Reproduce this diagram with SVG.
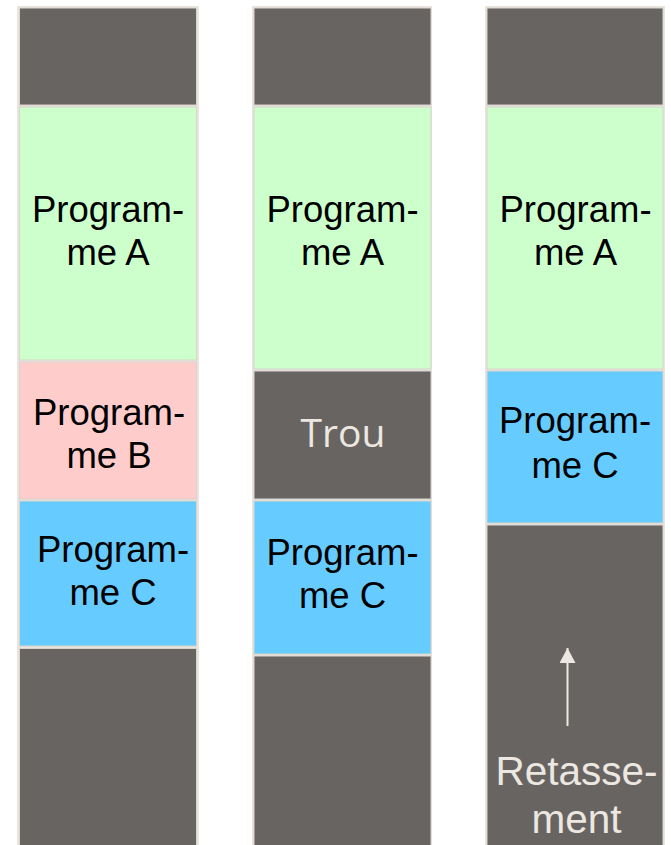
<svg xmlns="http://www.w3.org/2000/svg" width="671" height="845" viewBox="0 0 671 845">
  <defs>
    <style>
      .col { fill: #e8e4de; }
      .blk { stroke: #d9d3cb; stroke-width: 1; }
      .free { fill: #686462; }
      .pa { fill: #ccffcc; }
      .pb { fill: #ffcccc; }
      .pc { fill: #66ccff; }
      .lbl { font-family: "Liberation Sans", Arial, sans-serif; font-size: 36.5px; fill: #000000; text-anchor: middle; }
      .lt { font-family: "Liberation Sans", Arial, sans-serif; font-size: 40.5px; fill: #ece8e1; text-anchor: middle; }
      .hole { font-family: "Open Sans", "Noto Sans", sans-serif; font-size: 39px; fill: #ece8e1; text-anchor: middle; }
    </style>
    <!-- arrowhead drawn along +x so orient="auto" points it along the line -->
    <marker id="head" markerWidth="16" markerHeight="16" refX="15" refY="8" orient="auto" markerUnits="userSpaceOnUse" viewBox="0 0 16 16">
      <path d="M0,0 L15,8 L0,16 Z" fill="#ece8e1"/>
    </marker>
  </defs>

  <rect width="671" height="845" fill="#ffffff"/>

  <!-- Memory state 1: A, B, C loaded -->
  <g id="mem1">
    <rect class="col" x="17" y="6" width="182" height="845"/>
    <g id="mem1-top"><rect class="blk free" x="19.5" y="8" width="177" height="97"/></g>
    <g id="mem1-progA">
      <rect class="blk pa" x="19.5" y="107" width="177" height="253"/>
      <text class="lbl" x="108" y="221.5">Program-</text>
      <text class="lbl" x="108" y="265">me A</text>
    </g>
    <g id="mem1-progB">
      <rect class="blk pb" x="19.5" y="362" width="177" height="137"/>
      <text class="lbl" x="109" y="425">Program-</text>
      <text class="lbl" x="109" y="468">me B</text>
    </g>
    <g id="mem1-progC">
      <rect class="blk pc" x="19.5" y="501" width="177" height="145"/>
      <text class="lbl" x="113" y="561.5">Program-</text>
      <text class="lbl" x="113" y="605">me C</text>
    </g>
    <g id="mem1-bottom"><rect class="blk free" x="19.5" y="648.5" width="177" height="200"/></g>
  </g>

  <!-- Memory state 2: B removed, hole left -->
  <g id="mem2">
    <rect class="col" x="252" y="6" width="180" height="845"/>
    <g id="mem2-top"><rect class="blk free" x="254" y="8" width="177" height="97"/></g>
    <g id="mem2-progA">
      <rect class="blk pa" x="254" y="107" width="177" height="262"/>
      <text class="lbl" x="342.5" y="221.5">Program-</text>
      <text class="lbl" x="342.5" y="265">me A</text>
    </g>
    <g id="mem2-hole">
      <rect class="blk free" x="254" y="371" width="177" height="128"/>
      <text class="hole" x="343" y="447">Trou</text>
    </g>
    <g id="mem2-progC">
      <rect class="blk pc" x="254" y="501" width="177" height="153"/>
      <text class="lbl" x="342.5" y="565">Program-</text>
      <text class="lbl" x="342.5" y="608">me C</text>
    </g>
    <g id="mem2-bottom"><rect class="blk free" x="254" y="656" width="177" height="200"/></g>
  </g>

  <!-- Memory state 3: after compaction -->
  <g id="mem3">
    <rect class="col" x="485" y="6" width="180" height="845"/>
    <g id="mem3-top"><rect class="blk free" x="487" y="8" width="176" height="97"/></g>
    <g id="mem3-progA">
      <rect class="blk pa" x="487" y="107" width="176" height="262"/>
      <text class="lbl" x="575.5" y="221.5">Program-</text>
      <text class="lbl" x="575.5" y="265">me A</text>
    </g>
    <g id="mem3-progC">
      <rect class="blk pc" x="487" y="371" width="176" height="152"/>
      <text class="lbl" x="575" y="433">Program-</text>
      <text class="lbl" x="575" y="478">me C</text>
    </g>
    <g id="mem3-bottom">
      <rect class="blk free" x="487" y="525" width="176" height="330"/>
      <text class="lt" x="576.5" y="785">Retasse-</text>
      <text class="lt" x="576.5" y="833">ment</text>
    </g>
  </g>

  <!-- Connectors -->
  <g id="connectors">
    <line x1="567.5" y1="726" x2="567.5" y2="648" stroke="#ece8e1" stroke-width="2" marker-end="url(#head)"/>
  </g>
</svg>
